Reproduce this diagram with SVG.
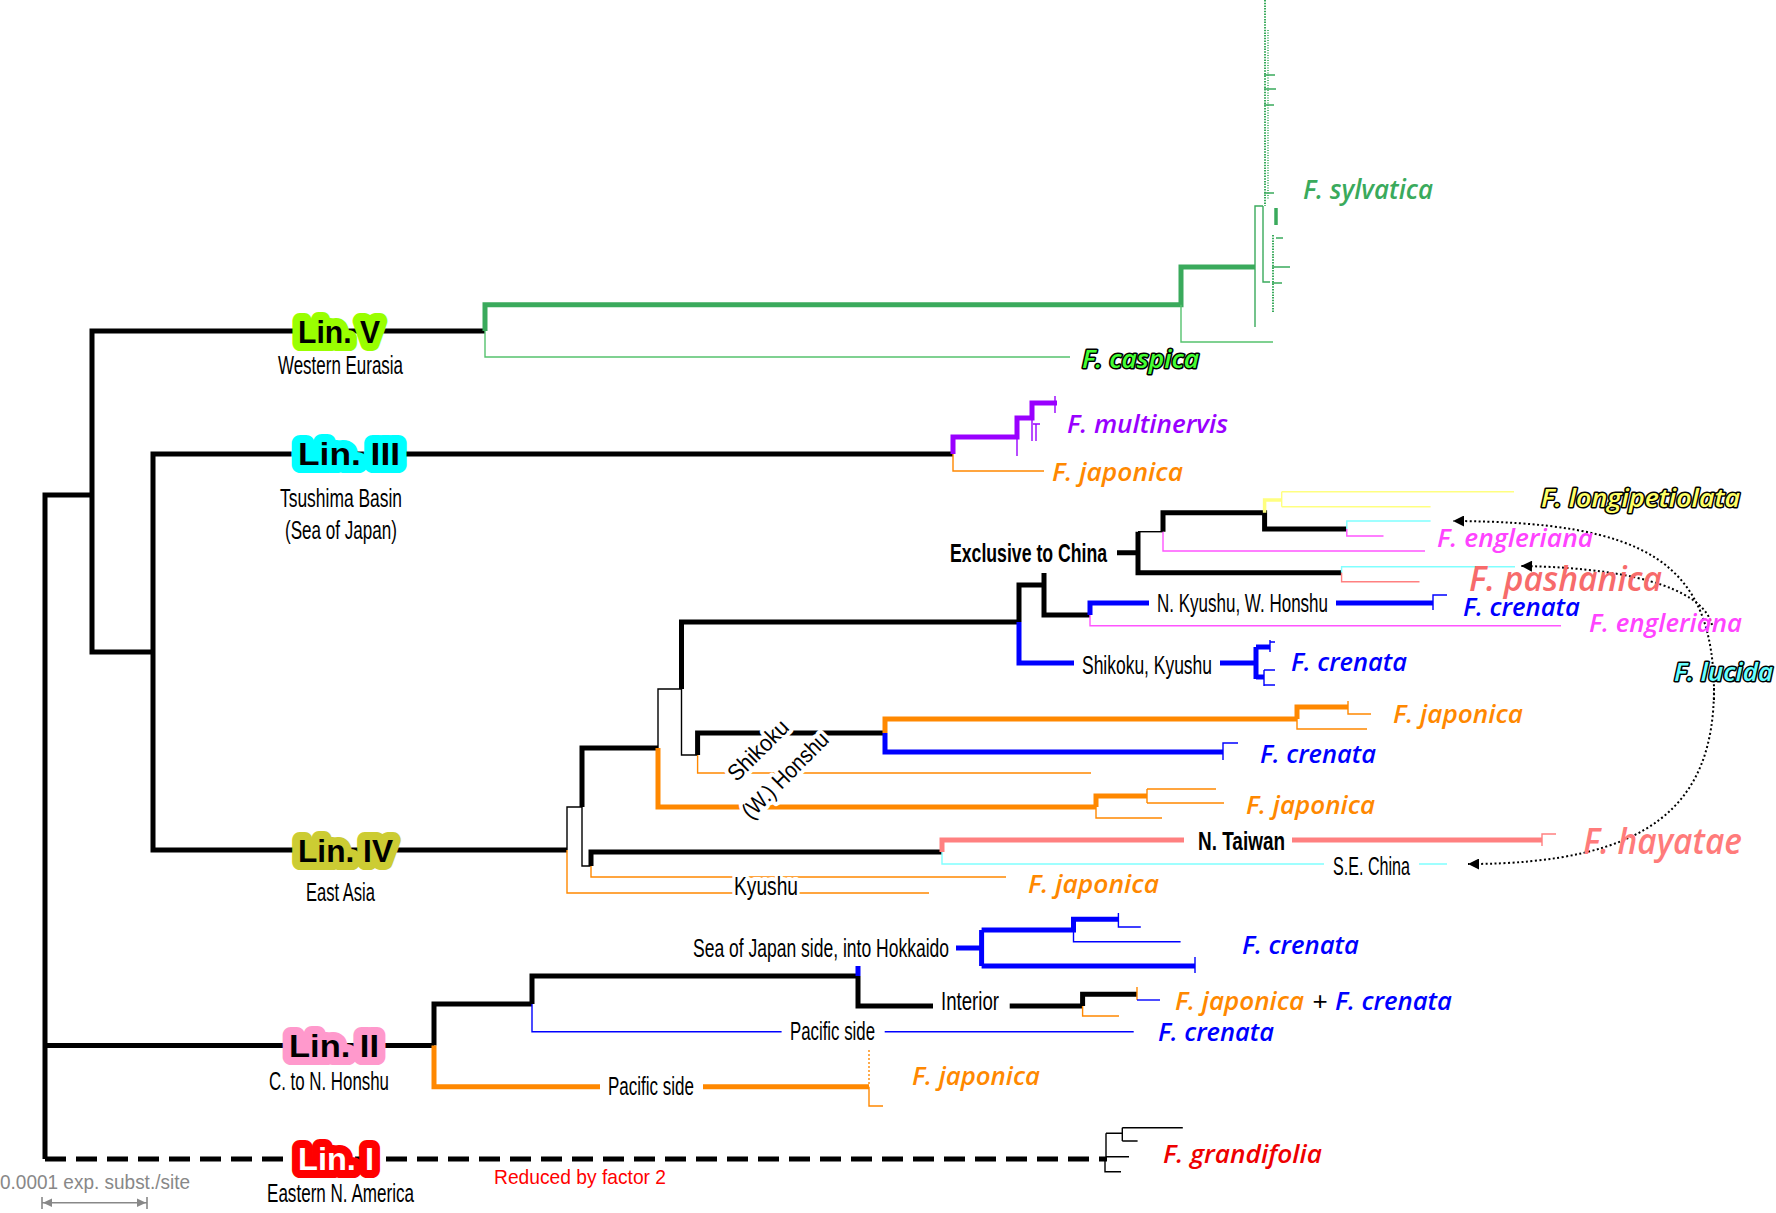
<svg xmlns="http://www.w3.org/2000/svg" width="1776" height="1213" viewBox="0 0 1776 1213">
<style>
.th{fill:none;stroke-width:5}
.tm{fill:none;stroke-width:3.5}
.tn{fill:none;stroke-width:1.4}
.k{stroke:#000}.o{stroke:#ff8800}.b{stroke:#0000ff}.p{stroke:#9900ff}.g{stroke:#3aaa5c}.gl{stroke:#55c26e}.m{stroke:#ff55ff}.y{stroke:#ffff80}.c{stroke:#80ffff}.r{stroke:#ff8080}
.sp{font-family:"Open Sans","Liberation Sans",sans-serif;font-style:italic;font-weight:600;font-size:25px}
.rg{font-family:"Liberation Sans Narrow","Liberation Sans",sans-serif;font-size:25px;fill:#000}
.bd{font-weight:bold}
.lin{font-family:"Liberation Sans",sans-serif;font-weight:bold;font-size:32px;stroke-width:16;stroke-linejoin:round;paint-order:stroke}
.out{stroke:#000;stroke-width:3;stroke-linejoin:round;paint-order:stroke}
.halo{stroke:#fff;stroke-width:8;stroke-linejoin:round;paint-order:stroke}
.dot{fill:none;stroke:#000;stroke-width:2;stroke-dasharray:2 2.5}
</style>
<defs>
<marker id="ah" viewBox="0 0 10 10" refX="10" refY="5" markerWidth="13" markerHeight="11" markerUnits="userSpaceOnUse" orient="auto"><path d="M0,0 L10,5 L0,10 z" fill="#000"/></marker>
</defs>
<rect width="1776" height="1213" fill="#fff"/>

<g id="connectors">
<!-- backbone -->
<path class="th k" d="M92,495 H45 V1159"/>
<path class="th k" d="M45,1045.5 H434"/>
<path class="th k" d="M485,331 H92 V652 H153"/>
<path class="th k" d="M953,454 H153 V850 H567"/>
<path class="th k" d="M45,1159 H1107" style="stroke-dasharray:21 10"/>

<!-- Lin V green -->
<path class="th g" d="M485,331 V304.7 H1181 V267 H1255"/>
<path class="tn gl" d="M485,331 V357 H1070"/>
<path class="tn gl" d="M1181,304.7 V342 H1273"/>
<path class="tn g" d="M1255,327 V206 H1263"/>
<path class="tn g" d="M1263,206 V282 H1270"/>
<path class="g" fill="none" stroke-width="2" d="M1265,0 V206" style="stroke-dasharray:1.5 1.2"/>
<path class="g" fill="none" stroke-width="1.6" d="M1268,30 V200" style="stroke-dasharray:1 1.5"/>
<path class="g" fill="none" stroke-width="2" d="M1273,235 V313" style="stroke-dasharray:1.5 1.2"/>
<path class="tn g" d="M1264,75 H1275 M1264,89 H1276 M1264,105 H1274 M1264,193 H1274 M1276,238 H1283 M1272,267 H1290 M1272,283 H1282"/>
<path class="tm g" d="M1276,208 V225"/>

<!-- Lin III purple -->
<path class="th p" d="M953,454 V437 H1017 V418 H1032 V403 H1057"/>
<path class="tn p" d="M1017,437 V456 M1032,418 V441 M1033,424 H1040 M1036,424 V441 M1055,396 V413"/>
<path class="tn o" d="M953,454 V471 H1044"/>

<!-- Lin IV -->
<path class="tn k" d="M567,850 V807 H582"/>
<path class="tn o" d="M567,850 V893 H929"/>
<path class="th k" d="M582,807 V748 H658"/>
<path class="tn k" d="M582,807 V866 H591"/>
<path class="th k" d="M591,866 V852 H942"/>
<path class="tn o" d="M591,866 V877 H1006"/>
<path class="tn k" d="M658,748 V689 H681.5"/>
<path class="th o" d="M658,748 V807 H1096"/>
<path class="th k" d="M681.5,689 V622 H1019"/>
<path class="tn k" d="M681.5,689 V755 H697.6"/>
<path class="th k" d="M697.6,755 V733 H885"/>
<path class="tn o" d="M697.6,755 V773 H1091"/>
<path class="th o" d="M885,733 V719 H1297"/>
<path class="th b" d="M885,733 V752 H1223"/>
<path class="tn b" d="M1223,760 V743 H1238"/>
<path class="th o" d="M1297,719 V707 H1348"/>
<path class="tn o" d="M1297,719 V729 H1367 M1348,701 V714 H1371"/>
<path class="th o" d="M1096,807 V796 H1147"/>
<path class="tn o" d="M1096,807 V818 H1162 M1147,789 V803 M1147,789 H1216 M1147,803 H1224"/>
<path class="th r" d="M942,852 V840 H1184 M1292,840 H1542"/>
<path class="tn r" d="M1542,846 V834 H1556"/>
<path class="tn c" d="M942,852 V864 H1324 M1419,864 H1447"/>

<!-- Japan/China upper -->
<path class="th k" d="M1019,622 V585 H1044"/>
<path class="th b" d="M1019,622 V663 H1074"/>
<path class="th k" d="M1044,573 V615 H1090"/>
<path class="th b" d="M1090,615 V603 H1149 M1336,603 H1433"/>
<path class="tn b" d="M1433,610 V595 H1447"/>
<path class="tn m" d="M1090,615 V625.7 H1561"/>
<path class="th b" d="M1220,663 H1256 M1256,647 V679 M1256,647 H1270 M1256,677 H1264"/>
<path class="tn b" d="M1270,640 V652 M1270,642 H1275 M1264,670 V686 M1264,670 H1275 M1264,685 H1275"/>

<!-- China clade -->
<path class="th k" d="M1117,552.7 H1138 M1138,531.7 V572.7 H1341.6"/>
<path class="tn k" d="M1138,531.7 H1163"/>
<path class="th k" d="M1163,531.7 V512.7 H1264.6 V529 H1346.8"/>
<path class="tn m" d="M1163,531.7 V551 H1425"/>
<path class="tm y" d="M1264.6,512.7 V500 H1281.7"/>
<path class="tn y" d="M1281.7,491.7 V506.7 M1281.7,491.7 H1514 M1281.7,506.7 H1430.6"/>
<path class="tn c" d="M1346.8,529 V521 H1430.6"/>
<path class="tn m" d="M1346.8,529 V536 H1383.5"/>
<path class="tn c" d="M1341.6,572.7 V566.7 H1515"/>
<path class="tn r" d="M1341.6,572.7 V581.7 H1419.5"/>

<!-- Lin II -->
<path class="th k" d="M434,1045.5 V1004 H532"/>
<path class="th o" d="M434,1045.5 V1086.7 H600 M703,1086.7 H869"/>
<path class="th k" d="M532,1004 V976 H858"/>
<path class="tn b" d="M532,1004 V1031.7 H781.6 M884.7,1031.7 H1133.7"/>
<path class="th b" d="M858,976 V966"/>
<path class="th k" d="M858,976 V1006 H933 M1009.7,1006 H1082.6"/>
<path class="th k" d="M1082.6,1006 V994.3 H1137"/>
<path class="tn o" d="M1082.6,1006 V1016 H1119 M1137,987 V1000"/>
<path class="tn b" d="M1137,1000 H1160"/>
<path class="th b" d="M956,948 H981.6 M981.6,930 V966 M981.6,930 H1073.5 V919.3 H1118.4 M981.6,966 H1195"/>
<path class="tn b" d="M1073.5,930 V941.7 H1180.6 M1118.4,913 V927 H1140.8 M1195,957 V973"/>
<path class="tn o" d="M869,1050 V1086" style="stroke-dasharray:2 2"/>
<path class="tn o" d="M869,1086.7 V1106 H883"/>

<!-- Lin I grandifolia -->
<path class="tn k" d="M1106,1133.3 V1160 M1105,1160 V1171.7 H1121 M1106,1133.3 H1122.3 M1122.3,1127.7 V1141 M1122.3,1127.7 H1182.8 M1122.3,1141 H1137.6 M1106,1156.7 H1129"/>

<!-- dotted arrows -->
<path class="dot" d="M1714,700 C1716,560 1645,522 1453,521" marker-end="url(#ah)"/>
<path class="dot" d="M1712,625 C1705,595 1650,568 1521,566" marker-end="url(#ah)"/>
<path class="dot" d="M1714,688 C1714,805 1650,864 1468,864" marker-end="url(#ah)"/>
</g>

<!-- scale bar -->
<g id="scale">
<path d="M42,1202.7 H147 M42,1197 V1209 M147,1197 V1209" fill="none" stroke="#888" stroke-width="1.6"/>
<path d="M43,1202.7 L52,1198.5 L52,1207 z M146,1202.7 L137,1198.5 L137,1207 z" fill="#888"/>
<text x="0" y="1189" font-family="Liberation Sans Narrow, Liberation Sans, sans-serif" font-size="21" fill="#888" textLength="190" lengthAdjust="spacingAndGlyphs">0.0001 exp. subst./site</text>
</g>

<!-- lineage badges -->
<g id="lin5"><text class="lin" x="339" y="343" text-anchor="middle" textLength="82" lengthAdjust="spacingAndGlyphs" fill="#000" stroke="#99ff00">Lin. V</text>
<text class="rg" x="340.5" y="374" text-anchor="middle" textLength="125" lengthAdjust="spacingAndGlyphs">Western Eurasia</text></g>
<g id="lin3"><text class="lin" x="349" y="465" text-anchor="middle" textLength="102" lengthAdjust="spacingAndGlyphs" fill="#000" stroke="#00ffff">Lin. III</text>
<text class="rg" x="341" y="507" text-anchor="middle" textLength="122" lengthAdjust="spacingAndGlyphs">Tsushima Basin</text>
<text class="rg" x="341" y="539" text-anchor="middle" textLength="112" lengthAdjust="spacingAndGlyphs">(Sea of Japan)</text></g>
<g id="lin4"><text class="lin" x="345.5" y="862" text-anchor="middle" textLength="95" lengthAdjust="spacingAndGlyphs" fill="#000" stroke="#cccc33">Lin. IV</text>
<text class="rg" x="340.5" y="901" text-anchor="middle" textLength="69" lengthAdjust="spacingAndGlyphs">East Asia</text></g>
<g id="lin2"><text class="lin" x="334" y="1057" text-anchor="middle" textLength="90" lengthAdjust="spacingAndGlyphs" fill="#000" stroke="#ff99cc">Lin. II</text>
<text class="rg" x="329" y="1090" text-anchor="middle" textLength="120" lengthAdjust="spacingAndGlyphs">C. to N. Honshu</text></g>
<g id="lin1"><text class="lin" x="336" y="1170" text-anchor="middle" textLength="76" lengthAdjust="spacingAndGlyphs" fill="#fff" stroke="#ff0000">Lin. I</text>
<text class="rg" x="340.5" y="1202" text-anchor="middle" textLength="147" lengthAdjust="spacingAndGlyphs">Eastern N. America</text>
<text x="494" y="1184" font-family="Liberation Sans Narrow, Liberation Sans, sans-serif" font-size="21" fill="#ff0000" textLength="172" lengthAdjust="spacingAndGlyphs">Reduced by factor 2</text></g>

<!-- region labels -->
<g id="regions">
<text class="rg bd" x="950" y="562" textLength="157" lengthAdjust="spacingAndGlyphs">Exclusive to China</text>
<text class="rg" x="1157" y="612" textLength="171" lengthAdjust="spacingAndGlyphs">N. Kyushu, W. Honshu</text>
<text class="rg" x="1082" y="674" textLength="130" lengthAdjust="spacingAndGlyphs">Shikoku, Kyushu</text>
<text class="rg bd" x="1198" y="850" textLength="87" lengthAdjust="spacingAndGlyphs">N. Taiwan</text>
<text class="rg" x="1333" y="875" textLength="77" lengthAdjust="spacingAndGlyphs">S.E. China</text>
<text class="rg halo" x="734" y="895" textLength="64" lengthAdjust="spacingAndGlyphs">Kyushu</text>
<text class="rg" x="693" y="957" textLength="256" lengthAdjust="spacingAndGlyphs">Sea of Japan side, into Hokkaido</text>
<text class="rg" x="941" y="1010" textLength="58" lengthAdjust="spacingAndGlyphs">Interior</text>
<text class="rg" x="790" y="1040" textLength="85" lengthAdjust="spacingAndGlyphs">Pacific side</text>
<text class="rg" x="608" y="1095" textLength="86" lengthAdjust="spacingAndGlyphs">Pacific side</text>
<text class="rg halo" transform="translate(758,750) rotate(-45)" y="8" text-anchor="middle" style="font-size:23px" textLength="76" lengthAdjust="spacingAndGlyphs">Shikoku</text>
<text class="rg halo" transform="translate(785,775) rotate(-45)" y="8" text-anchor="middle" style="font-size:23px" textLength="112" lengthAdjust="spacingAndGlyphs">(W.) Honshu</text>
</g>

<!-- species labels -->
<g id="sylvatica"><text class="sp" x="1303" y="199" fill="#3aaa5c" style="font-size:27px" textLength="130" lengthAdjust="spacingAndGlyphs">F. sylvatica</text></g>
<g id="caspica"><text class="sp out" x="1082" y="368" fill="#44ff33" textLength="117" lengthAdjust="spacingAndGlyphs">F. caspica</text></g>
<g id="multinervis"><text class="sp" x="1067" y="433" fill="#9900ff" textLength="161" lengthAdjust="spacingAndGlyphs">F. multinervis</text></g>
<g id="japonica3"><text class="sp" x="1052" y="481" fill="#ff8800" textLength="131" lengthAdjust="spacingAndGlyphs">F. japonica</text></g>
<g id="longipetiolata"><text class="sp out" x="1541" y="507" fill="#ffff66" textLength="199" lengthAdjust="spacingAndGlyphs">F. longipetiolata</text></g>
<g id="engleriana1"><text class="sp" x="1437" y="547" fill="#ff44ff" textLength="156" lengthAdjust="spacingAndGlyphs">F. engleriana</text></g>
<g id="pashanica"><text class="sp" x="1469" y="591" fill="#f76b6b" style="font-size:35px" textLength="193" lengthAdjust="spacingAndGlyphs">F. pashanica</text></g>
<g id="crenata1"><text class="sp" x="1463" y="616" fill="#0000ff" textLength="117" lengthAdjust="spacingAndGlyphs">F. crenata</text></g>
<g id="engleriana2"><text class="sp" x="1589" y="632" fill="#ff44ff" textLength="153" lengthAdjust="spacingAndGlyphs">F. engleriana</text></g>
<g id="crenata2"><text class="sp" x="1291" y="671" fill="#0000ff" textLength="116" lengthAdjust="spacingAndGlyphs">F. crenata</text></g>
<g id="lucida"><text class="sp out" x="1674" y="681" fill="#66ffff" textLength="99" lengthAdjust="spacingAndGlyphs">F. lucida</text></g>
<g id="japonica4a"><text class="sp" x="1393" y="723" fill="#ff8800" textLength="130" lengthAdjust="spacingAndGlyphs">F. japonica</text></g>
<g id="crenata3"><text class="sp" x="1260" y="763" fill="#0000ff" textLength="116" lengthAdjust="spacingAndGlyphs">F. crenata</text></g>
<g id="japonica4b"><text class="sp" x="1246" y="814" fill="#ff8800" textLength="129" lengthAdjust="spacingAndGlyphs">F. japonica</text></g>
<g id="hayatae"><text class="sp" x="1583" y="854" fill="#ff7b7b" style="font-size:36px" textLength="159" lengthAdjust="spacingAndGlyphs">F. hayatae</text></g>
<g id="japonica4c"><text class="sp" x="1028" y="893" fill="#ff8800" textLength="131" lengthAdjust="spacingAndGlyphs">F. japonica</text></g>
<g id="crenata4"><text class="sp" x="1242" y="954" fill="#0000ff" textLength="117" lengthAdjust="spacingAndGlyphs">F. crenata</text></g>
<g id="japcren"><text class="sp" x="1175" y="1010" fill="#ff8800" textLength="129" lengthAdjust="spacingAndGlyphs">F. japonica</text>
<text x="1320" y="1010" text-anchor="middle" font-family="Liberation Sans, sans-serif" font-size="26" fill="#000">+</text>
<text class="sp" x="1335" y="1010" fill="#0000ff" textLength="117" lengthAdjust="spacingAndGlyphs">F. crenata</text></g>
<g id="crenata5"><text class="sp" x="1158" y="1041" fill="#0000ff" textLength="116" lengthAdjust="spacingAndGlyphs">F. crenata</text></g>
<g id="japonica2"><text class="sp" x="912" y="1085" fill="#ff8800" textLength="128" lengthAdjust="spacingAndGlyphs">F. japonica</text></g>
<g id="grandifolia"><text class="sp" x="1163" y="1163" fill="#ee0000" textLength="159" lengthAdjust="spacingAndGlyphs">F. grandifolia</text></g>
</svg>
